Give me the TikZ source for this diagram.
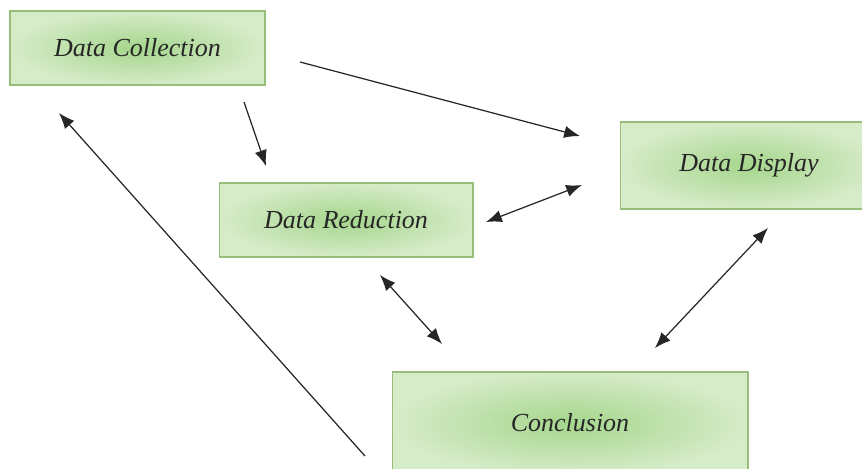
\documentclass[tikz,border=0pt]{standalone}
\usepackage{fontspec}
\setmainfont{Liberation Serif}
\usetikzlibrary{arrows.meta}
\definecolor{boxline}{RGB}{150,190,120}
\definecolor{boxin}{RGB}{165,214,140}
\definecolor{boxout}{RGB}{214,235,200}

\begin{document}
\begin{tikzpicture}[x=0.02cm,y=-0.02cm,
    stage/.style={draw=boxline, line width=0.6pt, inner color=boxin, outer color=boxout,
                  font=\fontsize{14.8}{17}\selectfont\itshape, text=black!85},
    link/.style={black!85, line width=0.7pt, -{Latex[length=9pt,width=7pt]}},
    both/.style={link, {Latex[length=9pt,width=7pt]}-{Latex[length=9pt,width=7pt]}}]

    \useasboundingbox (0,0) rectangle (862,468);
    \clip (0,0) rectangle (862,468);
    \fill[white] (0,0) rectangle (862,468);

    \node[stage, minimum width=5.1cm, minimum height=1.48cm] (collect) at (137.5,48) {Data Collection};
    \node[stage, minimum width=5.08cm, minimum height=1.48cm] (reduce) at (346,220) {Data Reduction};
    \node[stage, minimum width=5.16cm, minimum height=1.74cm] (display) at (749,165.5) {Data Display};
    \node[stage, minimum width=7.12cm, minimum height=2.04cm] (concl) at (570,423) {Conclusion};

    \coordinate (c1) at (300,62);   \coordinate (d1) at (580,136);
    \coordinate (c2) at (244,102);  \coordinate (r2) at (266,166);
    \coordinate (r3) at (486,222);  \coordinate (d3) at (582,185);
    \coordinate (r4) at (380,275);  \coordinate (k4) at (442,344);
    \coordinate (d5) at (768,228);  \coordinate (k5) at (655,348);
    \coordinate (k6) at (365,456);  \coordinate (c6) at (59,113);

    \draw[link] (c1) -- (d1);
    \draw[link] (c2) -- (r2);
    \draw[both] (r3) -- (d3);
    \draw[both] (r4) -- (k4);
    \draw[both] (d5) -- (k5);
    \draw[link] (k6) -- (c6);
\end{tikzpicture}
\end{document}
